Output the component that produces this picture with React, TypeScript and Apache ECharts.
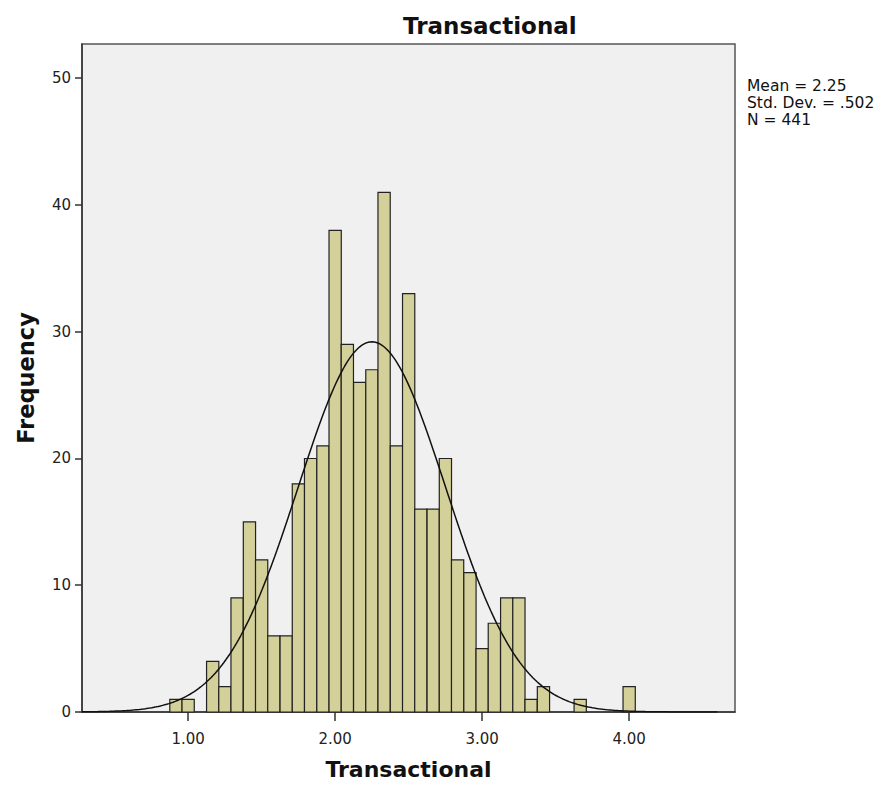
import React, { useEffect, useRef } from "react";
import * as echarts from "echarts";

// Histogram bins (centre of each bin, width 1/12) and frequencies
const binCenters = [
  0.917, 1.0, 1.083, 1.167, 1.25, 1.333, 1.417, 1.5, 1.583, 1.667,
  1.75, 1.833, 1.917, 2.0, 2.083, 2.167, 2.25, 2.333, 2.417, 2.5,
  2.583, 2.667, 2.75, 2.833, 2.917, 3.0, 3.083, 3.167, 3.25, 3.333,
  3.417, 3.5, 3.583, 3.667, 3.75, 3.833, 3.917, 4.0,
];
const frequencies = [
  1, 1, 0, 4, 2, 9, 15, 12, 6, 6,
  18, 20, 21, 38, 29, 26, 27, 41, 21, 33,
  16, 16, 20, 12, 11, 5, 7, 9, 9, 1,
  2, 0, 0, 1, 0, 0, 0, 2,
];
const binWidth = 1 / 12;

// Summary statistics shown in the legend
const mean = 2.25;
const stdDev = 0.502;
const nCases = 441;
const statLines = ["Mean = 2.25", "Std. Dev. = .502", "N = 441"];

// Axis ticks
const xTicks = [1, 2, 3, 4];
const yTicks = [0, 10, 20, 30, 40, 50];
const xMin = 0.278;
const xMax = 4.72;
const yMax = 52.7;
const curveEnd = 4.6;

const FONT = "DejaVu Sans";

export default function App() {
  const ref = useRef<HTMLDivElement>(null);

  useEffect(() => {
    if (!ref.current) return;
    const chart = echarts.init(ref.current, undefined, { renderer: "svg" });

    const barData = binCenters
      .map((c, i) => [c, frequencies[i]])
      .filter((d) => d[1] > 0);

    // fitted normal curve from the stated mean / sd / N
    const curve: number[][] = [];
    const steps = 300;
    for (let i = 0; i <= steps; i++) {
      const x = xMin + ((curveEnd - xMin) * i) / steps;
      const z = (x - mean) / stdDev;
      const y =
        (nCases * binWidth) / (stdDev * Math.sqrt(2 * Math.PI)) *
        Math.exp(-0.5 * z * z);
      curve.push([x, y]);
    }

    chart.setOption({
      animation: false,
      backgroundColor: "#ffffff",
      title: {
        text: "Transactional",
        left: 398,
        top: 9,
        textStyle: {
          fontFamily: FONT,
          fontWeight: "bold",
          fontSize: 23,
          color: "#111",
        },
      },
      grid: {
        left: 82,
        top: 44,
        width: 653,
        height: 668,
        show: true,
        backgroundColor: "#f0f0f0",
        borderColor: "#555",
        borderWidth: 1.5,
      },
      xAxis: {
        type: "value",
        min: xMin,
        max: xMax,
        name: "Transactional",
        nameLocation: "middle",
        nameGap: 46,
        nameTextStyle: {
          fontFamily: FONT,
          fontWeight: "bold",
          fontSize: 22,
          color: "#111",
        },
        axisLine: { show: true, onZero: false, lineStyle: { color: "#333", width: 1.5 } },
        axisTick: {
          show: true,
          length: 9,
          customValues: xTicks,
          lineStyle: { color: "#333", width: 1.5 },
        },
        axisLabel: {
          customValues: xTicks,
          formatter: (v: number) => v.toFixed(2),
          fontFamily: FONT,
          fontSize: 15,
          color: "#222",
          margin: 19,
        },
        splitLine: { show: false },
      },
      yAxis: {
        type: "value",
        min: 0,
        max: yMax,
        name: "Frequency",
        nameLocation: "middle",
        nameGap: 45,
        nameTextStyle: {
          fontFamily: FONT,
          fontWeight: "bold",
          fontSize: 22.5,
          color: "#111",
        },
        axisLine: { show: true, lineStyle: { color: "#333", width: 1.5 } },
        axisTick: {
          show: true,
          length: 7,
          customValues: yTicks,
          lineStyle: { color: "#333", width: 1.5 },
        },
        axisLabel: {
          customValues: yTicks,
          fontFamily: FONT,
          fontSize: 15,
          color: "#222",
          margin: 11,
        },
        splitLine: { show: false },
      },
      graphic: [
        {
          type: "text",
          left: 747,
          top: 77,
          style: {
            text: statLines.join("\n"),
            fontFamily: FONT,
            fontSize: 15.5,
            lineHeight: 17,
            fill: "#111",
          },
        },
      ],
      series: [
        {
          type: "custom",
          z: 2,
          data: barData,
          encode: { x: 0, y: 1 },
          renderItem: (params: any, api: any) => {
            const c = api.value(0);
            const v = api.value(1);
            const p1 = api.coord([c - binWidth / 2, v]);
            const p2 = api.coord([c + binWidth / 2, 0]);
            return {
              type: "rect",
              shape: {
                x: p1[0],
                y: p1[1],
                width: p2[0] - p1[0],
                height: p2[1] - p1[1],
              },
              style: {
                fill: "#d4d09a",
                stroke: "#222",
                lineWidth: 1.2,
              },
            };
          },
        },
        {
          type: "line",
          z: 3,
          data: curve,
          showSymbol: false,
          symbol: "none",
          lineStyle: { color: "#111", width: 1.5 },
        },
      ],
    });

    return () => chart.dispose();
  }, []);

  return (
    <div
      ref={ref}
      style={{ position: "absolute", left: 0, top: 0, width: 889, height: 786 }}
    />
  );
}
